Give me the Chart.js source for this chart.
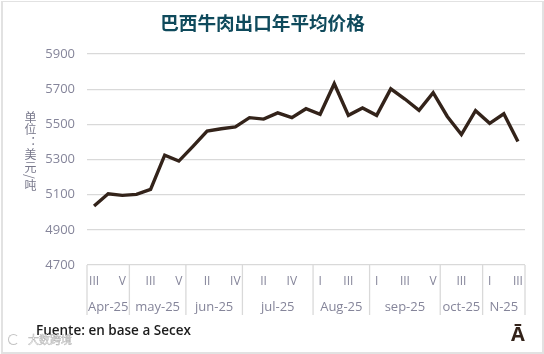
<!DOCTYPE html>
<html>
<head>
<meta charset="utf-8">
<script src="https://cdn.jsdelivr.net/npm/chart.js@4"></script>
<style>
  html, body { margin: 0; padding: 0; background: #fff; }
  #wrap { position: relative; width: 544px; height: 354px; overflow: hidden; }
  #miGrafico { position: absolute; left: 0; top: 0; }
  #marco { position: absolute; left: 1px; top: 1px; width: 539px; height: 350px; border: 2px solid #e2e2e2; border-top-width: 1px; }
  .nota { position: absolute; white-space: nowrap; }
  #unidad { left: 24px; top: 111px; writing-mode: vertical-rl; font: 12px/13px "Noto Sans CJK SC"; color: #77778a; letter-spacing: 0.6px; }
  #fuente { left: 36px; top: 321px; font: 600 13.5px "Open Sans"; color: #1c1c1c; }
  #logo { left: 511px; top: 320px; font: bold 20px "Open Sans"; color: #33231a; }
  #marca { left: 28px; top: 331px; font: 11px "Noto Sans CJK SC"; color: #fff; -webkit-text-stroke: 0.5px #b5b5b5; }
  #icono { position: absolute; left: 8px; top: 334px; width: 9px; height: 9px; border: 1.5px solid #c4c4c4; border-right-color: transparent; border-radius: 50%; }
</style>
</head>
<body>
<div id="wrap">
  <canvas id="miGrafico" width="544" height="354"></canvas>
  <div id="marco"></div>
  <div class="nota" id="unidad">单位：美元/吨</div>
  <div class="nota" id="fuente">Fuente: en base a Secex</div>
  <div class="nota" id="logo">Ā</div>
  <div id="icono"></div>
  <div class="nota" id="marca">大数跨境</div>
</div>
<script>
const semanas = ['III','IV','V','II','III','IV','V','I','II','III','IV','I','II','III','IV','V','I','II','III','IV','I','II','III','IV','V','II','III','IV','I','II','III'];
const precios = [5036,5105,5096,5102,5130,5325,5291,5375,5462,5475,5485,5538,5530,5565,5538,5589,5557,5731,5551,5593,5551,5702,5644,5580,5680,5545,5442,5578,5506,5560,5402];
const meses = ['Apr-25','may-25','jun-25','jul-25','Aug-25','sep-25','oct-25','N-25'];
const semanasPorMes = [3,4,4,5,4,5,3,3];
const ticksY = [4700,4900,5100,5300,5500,5700,5900];

const colorTexto = '#85859a';

// Segundo nivel del eje x: separadores y nombre del mes
const ejeMeses = {
    id: 'ejeMeses',
    afterDraw(chart) {
        const ctx = chart.ctx;
        const x = chart.scales.x;
        const area = chart.chartArea;
        const paso = area.width / semanas.length;
        let inicio = 0;
        ctx.save();
        ctx.strokeStyle = '#d9d9d9';
        ctx.lineWidth = 1.3;
        ctx.fillStyle = colorTexto;
        ctx.font = '13px "Open Sans"';
        ctx.textAlign = 'center';
        ctx.textBaseline = 'middle';
        const linea = (px) => {
            ctx.beginPath();
            ctx.moveTo(px, area.bottom);
            ctx.lineTo(px, area.bottom + 50);
            ctx.stroke();
        };
        linea(x.getPixelForValue(0) - paso / 2);
        meses.forEach((mes, i) => {
            const fin = inicio + semanasPorMes[i] - 1;
            const izq = x.getPixelForValue(inicio) - paso / 2;
            const der = x.getPixelForValue(fin) + paso / 2;
            linea(der);
            ctx.fillText(mes, (izq + der) / 2, area.bottom + 42);
            inicio = fin + 1;
        });
        ctx.restore();
    }
};

new Chart(document.getElementById('miGrafico').getContext('2d'), {
    type: 'line',
    data: {
        labels: semanas,
        datasets: [{
            data: precios,
            borderColor: '#33231a',
            borderWidth: 3.4,
            tension: 0,
            pointRadius: 0,
            borderJoinStyle: 'miter'
        }]
    },
    options: {
        responsive: false,
        animation: false,
        layout: { padding: { right: 19 } },
        plugins: {
            legend: { display: false },
            tooltip: { enabled: false },
            title: {
                display: true,
                text: '巴西牛肉出口年平均价格',
                color: '#0f4a5c',
                font: { family: '"Noto Sans CJK SC"', size: 18.6, weight: 'bold', lineHeight: 1.2 },
                padding: { top: 12, bottom: 19.7 }
            }
        },
        scales: {
            x: {
                offset: true,
                border: { display: false },
                grid: { display: false, drawTicks: false },
                afterFit(scale) { scale.height = 89; },
                ticks: {
                    autoSkip: false,
                    maxRotation: 0,
                    padding: 9,
                    color: colorTexto,
                    font: { family: '"Open Sans"', size: 12 },
                    callback(value, index) { return index % 2 === 0 ? semanas[index] : ''; }
                }
            },
            y: {
                min: 4700,
                max: 5900,
                border: { display: false },
                grid: { color: '#d9d9d9', lineWidth: 1.3, drawTicks: false },
                afterFit(scale) { scale.width = 87; },
                afterBuildTicks(scale) { scale.ticks = ticksY.map(v => ({ value: v })); },
                ticks: {
                    padding: 12,
                    color: colorTexto,
                    font: { family: '"Open Sans"', size: 13 },
                    callback(value) { return String(value); }
                }
            }
        }
    },
    plugins: [ejeMeses]
});
</script>
</body>
</html>
